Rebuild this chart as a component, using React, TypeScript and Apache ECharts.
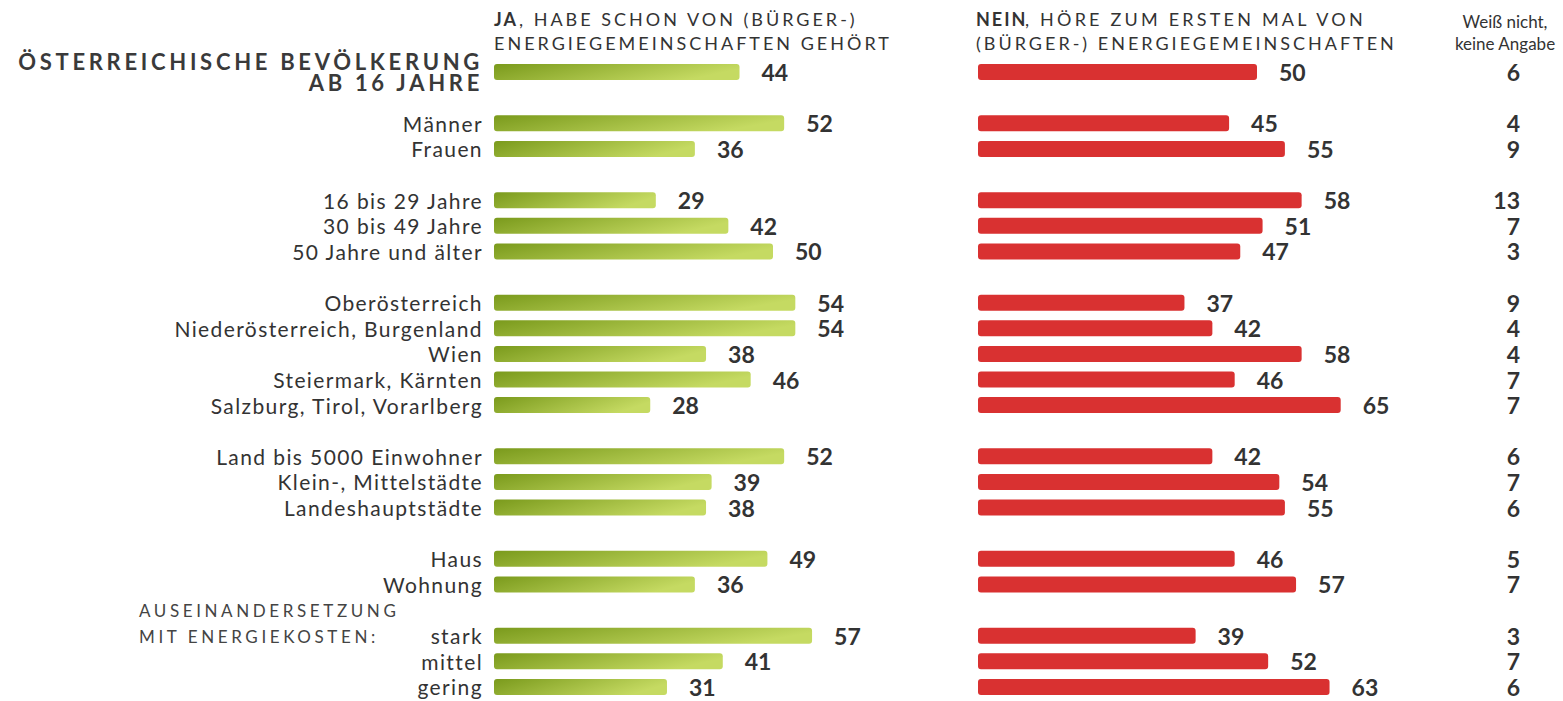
import React, { useEffect, useRef } from "react";
import * as echarts from "echarts";

const TITLE_LINE_1 = "ÖSTERREICHISCHE BEVÖLKERUNG";
const TITLE_LINE_2 = "AB 16 JAHRE";

const categories: string[] = [
  "TITLE",
  "",
  "Männer",
  "Frauen",
  "",
  "16 bis 29 Jahre",
  "30 bis 49 Jahre",
  "50 Jahre und älter",
  "",
  "Oberösterreich",
  "Niederösterreich, Burgenland",
  "Wien",
  "Steiermark, Kärnten",
  "Salzburg, Tirol, Vorarlberg",
  "",
  "Land bis 5000 Einwohner",
  "Klein-, Mittelstädte",
  "Landeshauptstädte",
  "",
  "Haus",
  "Wohnung",
  "",
  "stark",
  "mittel",
  "gering",
];

const yesValues: (number | null)[] = [44, null, 52, 36, null, 29, 42, 50, null, 54, 54, 38, 46, 28, null, 52, 39, 38, null, 49, 36, null, 57, 41, 31];
const noValues: (number | null)[] = [50, null, 45, 55, null, 58, 51, 47, null, 37, 42, 58, 46, 65, null, 42, 54, 55, null, 46, 57, null, 39, 52, 63];
const dontKnowValues: (number | null)[] = [6, null, 4, 9, null, 13, 7, 3, null, 9, 4, 4, 7, 7, null, 6, 7, 6, null, 5, 7, null, 3, 7, 6];

const yesHeader = ["JA", ", HABE SCHON VON (BÜRGER-)", "ENERGIEGEMEINSCHAFTEN GEHÖRT"];
const noHeader = ["NEIN", ", HÖRE ZUM ERSTEN MAL VON", "(BÜRGER-) ENERGIEGEMEINSCHAFTEN"];
const dkHeader = ["Weiß nicht,", "keine Angabe"];
const groupNote = ["AUSEINANDERSETZUNG", "MIT ENERGIEKOSTEN:"];

const FONT = "Lato, 'Noto Sans', sans-serif";
const TEXT = "#333333";

const letterSpacing: Record<string, string> = {
  [TITLE_LINE_1]: "3.7px",
  [TITLE_LINE_2]: "3.7px",
  [yesHeader[0]]: "2px",
  [yesHeader[1]]: "3px",
  [yesHeader[2]]: "3px",
  [noHeader[0]]: "2px",
  [noHeader[1]]: "3.2px",
  [noHeader[2]]: "3px",
  [groupNote[0]]: "3.6px",
  [groupNote[1]]: "3.6px",
};
categories.forEach((c, i) => {
  if (i > 0 && c) letterSpacing[c] = "1.4px";
});

export default function App() {
  const ref = useRef<HTMLDivElement>(null);
  useEffect(() => {
    if (!ref.current) return;
    const chart = echarts.init(ref.current, null, { renderer: "svg" });
    const axisData = categories.map((_, i) => "r" + i);
    const top = 59.2;
    const height = 640.6;
    const greenGrad = new echarts.graphic.LinearGradient(0, 0, 1, 0.3, [
      { offset: 0, color: "#7a9a1c" },
      { offset: 1, color: "#c5da62" },
    ]);
    const hiddenX = (i: number) => ({
      type: "value",
      gridIndex: i,
      min: 0,
      max: 100,
      show: false,
    });
    const baseY = (i: number) => ({
      type: "category",
      gridIndex: i,
      data: axisData,
      inverse: true,
      axisLine: { show: false },
      axisTick: { show: false },
      splitLine: { show: false },
    });
    const valueLabel = {
      show: true,
      position: "right",
      distance: 22,
      fontFamily: FONT,
      fontWeight: "bold",
      fontSize: 23,
      color: TEXT,
    };
    chart.setOption({
      animation: false,
      grid: [
        { left: 494, top, width: 558, height },
        { left: 978, top, width: 558, height },
        { left: 1520, top, width: 1, height },
      ],
      xAxis: [hiddenX(0), hiddenX(1), hiddenX(2)],
      yAxis: [
        {
          ...baseY(0),
          axisLabel: {
            interval: 0,
            margin: 11,
            fontFamily: FONT,
            fontSize: 21,
            color: TEXT,
            formatter: (_v: string, i: number) =>
              i === 0 ? `{t|${TITLE_LINE_1}}\n{t|${TITLE_LINE_2}}` : categories[i],
            rich: {
              t: {
                fontFamily: FONT,
                fontWeight: "bold",
                fontSize: 22,
                lineHeight: 21,
                color: "#3a3a3a",
                align: "right",
              },
            },
          },
        },
        { ...baseY(1), axisLabel: { show: false } },
        {
          ...baseY(2),
          axisLabel: {
            interval: 0,
            margin: 0,
            fontFamily: FONT,
            fontWeight: "bold",
            fontSize: 23,
            color: TEXT,
            formatter: (_v: string, i: number) =>
              dontKnowValues[i] == null ? "" : String(dontKnowValues[i]),
          },
        },
      ],
      series: [
        {
          type: "bar",
          xAxisIndex: 0,
          yAxisIndex: 0,
          data: yesValues,
          barWidth: 16,
          silent: true,
          itemStyle: { color: greenGrad, borderRadius: 3 },
          label: valueLabel,
        },
        {
          type: "bar",
          xAxisIndex: 1,
          yAxisIndex: 1,
          data: noValues,
          barWidth: 16,
          silent: true,
          itemStyle: { color: "#d93131", borderRadius: 3 },
          label: valueLabel,
        },
      ],
      graphic: [
        {
          type: "text",
          x: 494,
          y: 19,
          style: { text: yesHeader[0], font: `bold 18px ${FONT}`, fill: TEXT, verticalAlign: "middle" },
        },
        {
          type: "text",
          x: 519,
          y: 19,
          style: { text: yesHeader[1], font: `18px ${FONT}`, fill: TEXT, verticalAlign: "middle" },
        },
        {
          type: "text",
          x: 494,
          y: 43,
          style: { text: yesHeader[2], font: `18px ${FONT}`, fill: TEXT, verticalAlign: "middle" },
        },
        {
          type: "text",
          x: 976,
          y: 19,
          style: { text: noHeader[0], font: `bold 18px ${FONT}`, fill: TEXT, verticalAlign: "middle" },
        },
        {
          type: "text",
          x: 1025,
          y: 19,
          style: { text: noHeader[1], font: `18px ${FONT}`, fill: TEXT, verticalAlign: "middle" },
        },
        {
          type: "text",
          x: 976,
          y: 43,
          style: { text: noHeader[2], font: `18px ${FONT}`, fill: TEXT, verticalAlign: "middle" },
        },
        {
          type: "text",
          x: 1505,
          y: 21,
          style: { text: dkHeader[0], font: `17px ${FONT}`, fill: TEXT, align: "center", verticalAlign: "middle" },
        },
        {
          type: "text",
          x: 1505,
          y: 43,
          style: { text: dkHeader[1], font: `17px ${FONT}`, fill: TEXT, align: "center", verticalAlign: "middle" },
        },
        {
          type: "text",
          x: 139,
          y: 610,
          style: { text: groupNote[0], font: `17px ${FONT}`, fill: "#444", verticalAlign: "middle" },
        },
        {
          type: "text",
          x: 139,
          y: 636,
          style: { text: groupNote[1], font: `17px ${FONT}`, fill: "#444", verticalAlign: "middle" },
        },
      ],
    });
    const applySpacing = () => {
      ref.current?.querySelectorAll("text").forEach((t) => {
        const s = letterSpacing[(t.textContent || "").trim()];
        if (s) (t as SVGTextElement).style.letterSpacing = s;
      });
    };
    applySpacing();
    chart.on("finished", applySpacing);
    return () => chart.dispose();
  }, []);
  return (
    <div
      ref={ref}
      style={{ position: "absolute", left: 0, top: 0, width: 1563, height: 701 }}
    />
  );
}
